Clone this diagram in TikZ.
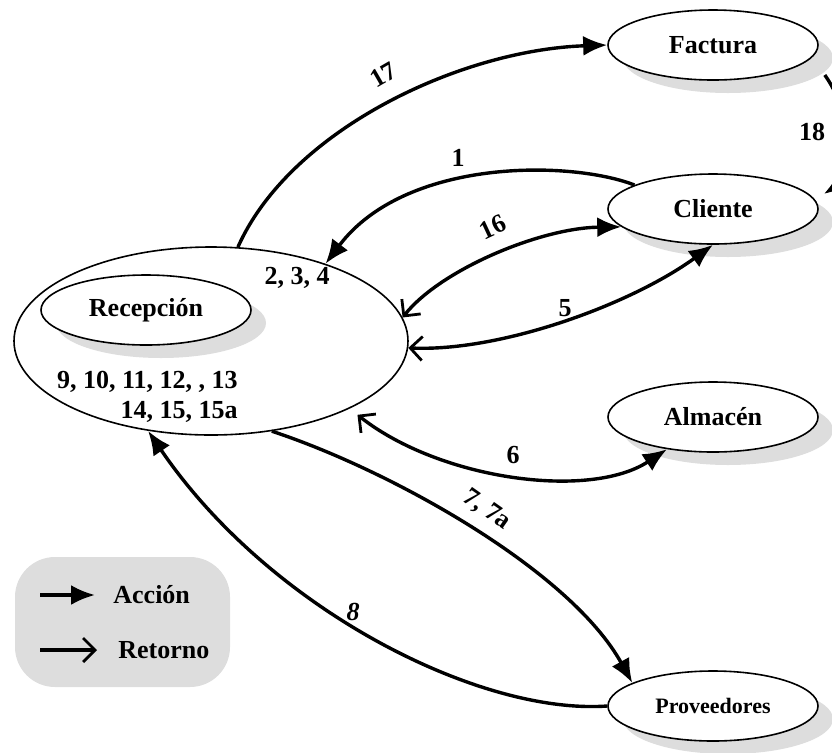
\documentclass[tikz,border=0pt]{standalone}
\usepackage{fontspec}
\setmainfont{Liberation Serif}
\usetikzlibrary{arrows.meta,shapes.geometric,shadows}
\begin{document}
\begin{tikzpicture}
    [
    x=0.5pt, y=-0.5pt,
    every node/.style={font=\bfseries\fontsize{13}{15}\selectfont},
    area/.style={ellipse,draw,line width=0.8pt,fill=white,inner sep=0pt,minimum width=105pt,minimum height=35pt,
      drop shadow={shadow xshift=7.5pt,shadow yshift=-6.5pt,fill=gray!27,opacity=1}},
    recbig/.style={ellipse,draw,line width=0.8pt,inner sep=0pt,minimum width=197pt,minimum height=94pt},
    accion/.style={-{Latex[length=12pt,width=10pt]},line width=1.7pt},
    doble/.style={{Straight Barb[length=6pt,width=12pt,line width=1.4pt]}-{Latex[length=12pt,width=10pt]},line width=1.7pt},
    leyenda/.style={rectangle,rounded corners=20pt,fill=gray!27,minimum width=107.5pt,minimum height=65pt}
    ]
    \useasboundingbox (0,0) rectangle (832,752);
    % areas
    \node (recep) at (211,341) [recbig] {};
    \node (rec) at (146,310) [area] {Recepción};
    \node (fact) at (713,45) [area] {Factura};
    \node (cli) at (713,209) [area] {Cliente};
    \node (alm) at (713,417) [area] {Almacén};
    \node (prov) at (713,706) [area, font=\bfseries\fontsize{11}{13}\selectfont] {Proveedores};
    \node (p234) at (297,278) {2, 3, 4};
    \node (p915) at (238,397) [anchor=east, align=right, inner sep=0pt] {9, 10, 11, 12, , 13\\14, 15, 15a};
    % flujos
    \draw [accion] (recep.74) .. controls (290,130) and (460,50) .. (fact.west);
    \draw [accion] ([shift={(6,30)}]fact.east) .. controls (850,110) and (858,172) .. ([shift={(5,-15)}]cli.east);
    \draw [accion] (cli.163) .. controls (570,160) and (405,158) .. (recep.34);
    \draw [doble] (recep.7) .. controls (440,270) and (540,228) .. (cli.191);
    \draw [doble] (recep.-2) .. controls (500,352) and (630,305) .. (cli.south);
    \draw [doble, shorten <=5pt] (recep.-26) .. controls (440,480) and (590,500) .. (alm.-145);
    \draw [accion] (recep.-56) .. controls (390,470) and (570,570) .. (prov.164);
    \draw [accion] (prov.west) .. controls (480,715) and (270,610) .. (recep.-125);
    % etiquetas
    \node (l17) at (383,75) [rotate=30] {17};
    \node (l18) at (812,132) {18};
    \node (l1) at (458,158) {1};
    \node (l16) at (493,227) [rotate=25] {16};
    \node (l5) at (565,308) {5};
    \node (l6) at (513,455) {6};
    \node (l7) at (487,510) [rotate=-35] {7, 7a};
    \node (l8) at (353,612) [font=\bfseries\itshape\fontsize{13}{15}\selectfont] {8};
    % leyenda
    \node (ley) at (122.5,622) [leyenda] {};
    \node (acc) at (113,595) [anchor=west, inner sep=0pt] {Acción};
    \node (ret) at (118,650) [anchor=west, inner sep=0pt] {Retorno};
    \draw [accion] ([xshift=-36.5pt]acc.west) -- ([xshift=-9pt]acc.west);
    \draw [{}-{Straight Barb[length=6pt,width=12pt,line width=1.4pt]}, line width=1.7pt] ([xshift=-39pt]ret.west) -- ([xshift=-10.5pt]ret.west);
  \end{tikzpicture}
\end{document}
